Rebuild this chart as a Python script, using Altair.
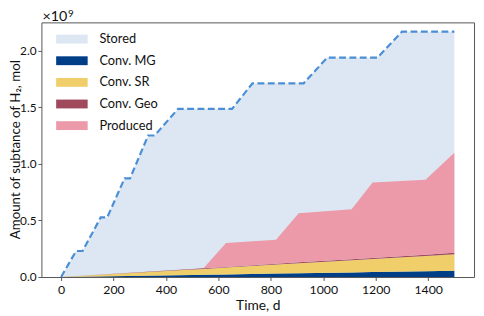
import altair as alt
import pandas as pd

# Stored H2 (dashed outline, light fill), units of 1e9 mol
stored_t = [0, 57, 82, 151, 176, 242, 263, 332, 357, 446, 652, 730, 925, 1015, 1206, 1300, 1500]
stored_v = [0, 0.23, 0.23, 0.527, 0.527, 0.872, 0.872, 1.252, 1.252, 1.487, 1.487,
            1.713, 1.713, 1.94, 1.94, 2.17, 2.17]

# Stacked components (units of 1e9 mol)
time = [0, 250, 500, 543, 629, 820, 906, 1108, 1188, 1390, 1500]
conv_mg = [0, 0.009, 0.019, 0.020, 0.023, 0.031, 0.034, 0.041, 0.044, 0.052, 0.056]
conv_sr = [0, 0.024, 0.048, 0.052, 0.061, 0.079, 0.088, 0.107, 0.115, 0.134, 0.145]
conv_geo = [0, 0.002, 0.004, 0.005, 0.005, 0.007, 0.008, 0.010, 0.010, 0.012, 0.013]
produced = [0, 0, 0, 0, 0.211, 0.213, 0.435, 0.442, 0.666, 0.662, 0.886]

series_names = ["Stored", "Conv. MG", "Conv. SR", "Conv. Geo", "Produced"]
series_colors = ["#dce7f3", "#003f88", "#f0cf6a", "#a0485c", "#ec9aa9"]
line_color = "#4a8fd6"

x_ticks = [0, 200, 400, 600, 800, 1000, 1200, 1400]
y_ticks = [0.0, 0.5, 1.0, 1.5, 2.0]

FONT = "Lato"

rows = []
for k, (name, vals) in enumerate(
    [("Conv. MG", conv_mg), ("Conv. SR", conv_sr), ("Conv. Geo", conv_geo), ("Produced", produced)],
    start=1,
):
    for t, v in zip(time, vals):
        rows.append({"t": t, "v": v, "series": name, "k": k})
stack_df = pd.DataFrame(rows)
stored_df = pd.DataFrame({"t": stored_t, "v": stored_v, "series": "Stored"})

xscale = alt.Scale(domain=[-75, 1575], nice=False, zero=False)
yscale = alt.Scale(domain=[0, 2.252], nice=False)

x = alt.X("t:Q", scale=xscale,
          axis=alt.Axis(values=x_ticks, format="d", title="Time, d", grid=False,
                        titleY=33, titleBaseline="alphabetic", labelPadding=3))
y_axis = alt.Axis(values=y_ticks, format=".1f", title="Amount of subtance of H₂, mol",
                  grid=False, titleX=-22, titleY=129, titleAngle=270,
                  titleBaseline="alphabetic", titleFontSize=13.5, labelPadding=2,
                  labelFontSize=12)

color = alt.Color(
    "series:N",
    scale=alt.Scale(domain=series_names, range=series_colors),
    legend=alt.Legend(
        title=None, orient="none", legendX=22, legendY=8,
        symbolType="M-1.78,-0.5H1.78V0.5H-1.78Z", symbolSize=324,
        symbolStrokeWidth=0, symbolOpacity=1,
        labelFont=FONT, labelFontSize=13, labelColor="#111", labelOffset=19,
        rowPadding=6, padding=0,
    ),
)

stored_area = alt.Chart(stored_df).mark_area(opacity=1).encode(
    x=x, y=alt.Y("v:Q", scale=yscale, axis=y_axis), color=color
)
stack_area = alt.Chart(stack_df).mark_area(opacity=1).encode(
    x=x,
    y=alt.Y("v:Q", stack="zero", scale=yscale, axis=y_axis),
    color=color,
    order=alt.Order("k:Q"),
)
stored_line = alt.Chart(stored_df).mark_line(
    color=line_color, strokeDash=[7, 3.5], strokeWidth=2.2
).encode(x=x, y=alt.Y("v:Q", scale=yscale, axis=y_axis))

exp_base = alt.Chart(pd.DataFrame({"s": ["×10"]})).mark_text(
    align="left", baseline="alphabetic", font=FONT, fontSize=14.5, color="#111"
).encode(x=alt.value(1), y=alt.value(-1), text="s:N")
exp_pow = alt.Chart(pd.DataFrame({"s": ["9"]})).mark_text(
    align="left", baseline="alphabetic", font=FONT, fontSize=10, color="#111"
).encode(x=alt.value(27), y=alt.value(-5), text="s:N")

chart = (
    alt.layer(stored_area, stack_area, stored_line, exp_base, exp_pow)
    .properties(
        width=440, height=259,
        padding={"left": 34, "top": 12, "right": 2, "bottom": 37},
        autosize=alt.AutoSizeParams(type="none"),
    )
    .configure_view(stroke="#555", strokeWidth=1)
    .configure_axis(
        domain=False, tickColor="#555", tickSize=3.5,
        labelFont=FONT, labelFontSize=12.5, labelColor="#111",
        titleFont=FONT, titleFontSize=14, titleColor="#111", titleFontWeight="normal",
    )
)

chart.save("out.html", embed_options={"renderer": "svg", "actions": False})
